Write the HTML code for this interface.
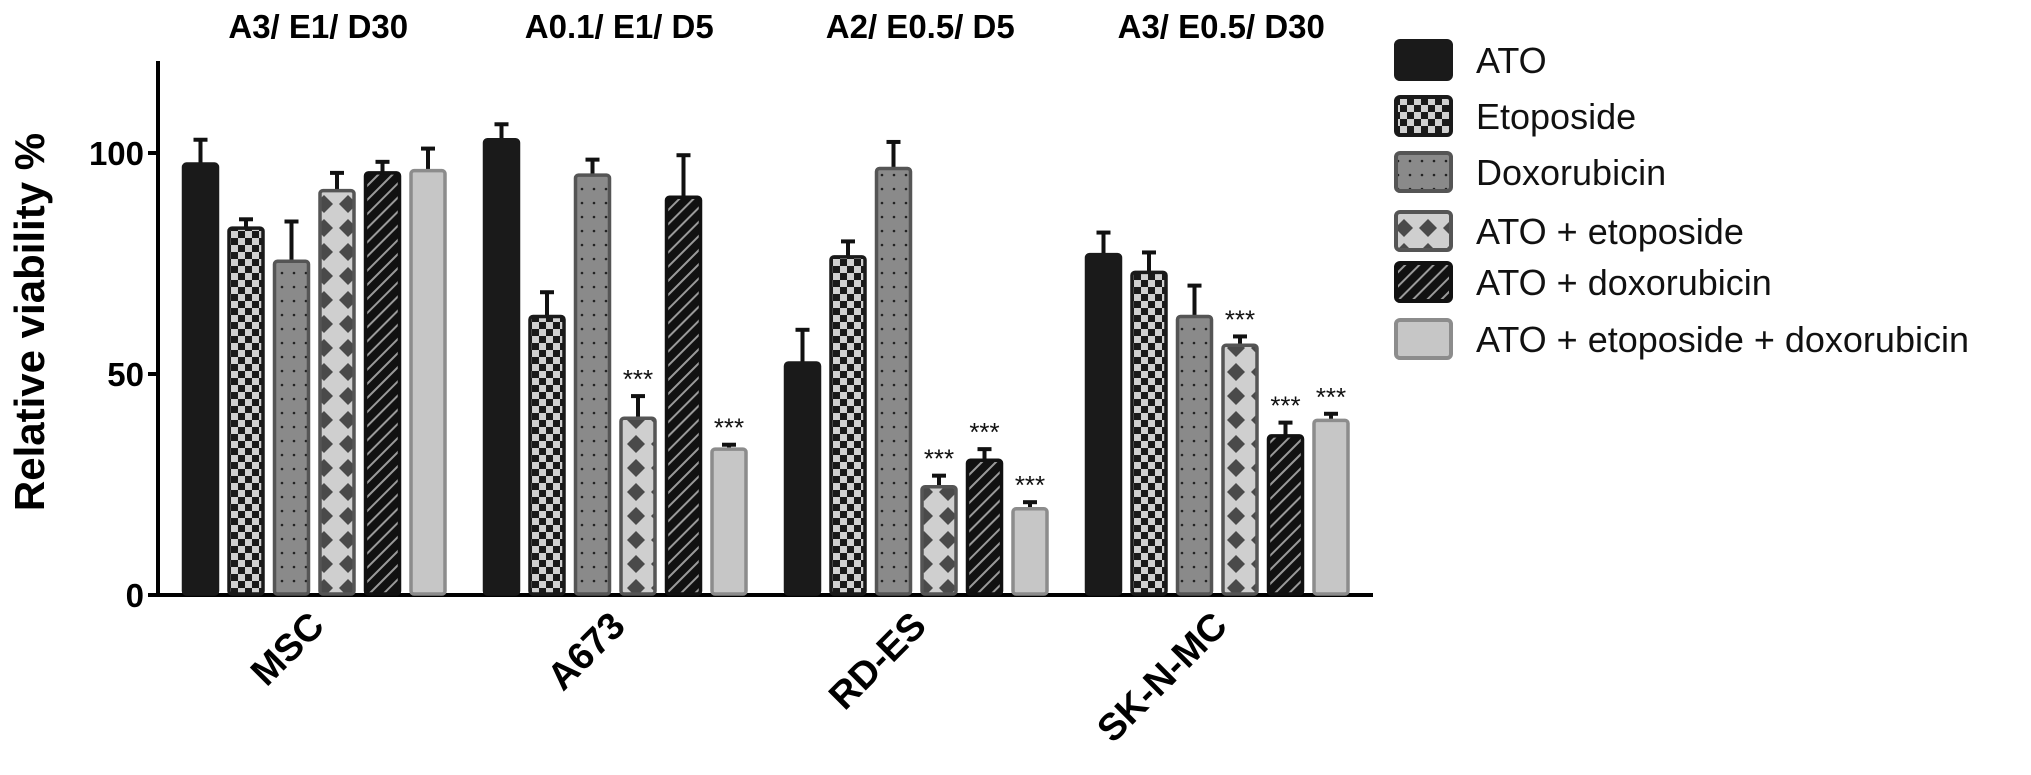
<!DOCTYPE html>
<html><head><meta charset="utf-8">
<style>
html,body{margin:0;padding:0;background:#fff;}
svg{display:block;font-family:"Liberation Sans",Arial,sans-serif;}
</style></head>
<body>
<svg id="chart" width="2031" height="775" viewBox="0 0 2031 775">
<defs>
  <pattern id="p-check" width="14" height="14" patternUnits="userSpaceOnUse">
    <rect width="14" height="14" fill="#1a1a1a"/>
    <rect x="0" y="0" width="7" height="7" fill="#d0d0d0"/>
    <rect x="7" y="7" width="7" height="7" fill="#d0d0d0"/>
  </pattern>
  <pattern id="p-dots" width="12" height="14" patternUnits="userSpaceOnUse">
    <rect width="12" height="14" fill="#8a8a8a"/>
    <circle cx="6" cy="7" r="1.3" fill="#222"/>
  </pattern>
  <pattern id="p-diam" width="24" height="24" patternUnits="userSpaceOnUse">
    <rect width="24" height="24" fill="#cfcfcf"/>
    <polygon points="12,3 21,12 12,21 3,12" fill="#4a4a4a"/>
  </pattern>
  <pattern id="p-stripe" width="10" height="10" patternUnits="userSpaceOnUse" patternTransform="rotate(45)">
    <rect width="10" height="10" fill="#111"/>
    <rect x="0" y="0" width="2" height="10" fill="#9a9a9a"/>
  </pattern>
</defs>
<g id="plot"></g>
</svg>
<script>
const groups = ["MSC","A673","RD-ES","SK-N-MC"];
const groupTitles = ["A3/ E1/ D30","A0.1/ E1/ D5","A2/ E0.5/ D5","A3/ E0.5/ D30"];
const seriesNames = ["ATO","Etoposide","Doxorubicin","ATO + etoposide","ATO + doxorubicin","ATO + etoposide + doxorubicin"];
const valATO   = [97.5, 103, 52.5, 77];
const valEto   = [83, 63, 76.5, 73];
const valDox   = [75.5, 95, 96.5, 63];
const valAE    = [91.5, 40, 24.5, 56.5];
const valAD    = [95.5, 90, 30.5, 36];
const valAED   = [96, 33, 19.5, 39.5];
const errATO   = [5.5, 3.5, 7.5, 5];
const errEto   = [2, 5.5, 3.5, 4.5];
const errDox   = [9, 3.5, 6, 7];
const errAE    = [4, 5, 2.5, 2];
const errAD    = [2.5, 9.5, 2.5, 3];
const errAED   = [5, 1, 1.5, 1.5];
const sigAE    = [false, true, true, true];
const sigAD    = [false, false, true, true];
const sigAED   = [false, true, true, true];
const yTicks = [0, 50, 100];

const values = [valATO,valEto,valDox,valAE,valAD,valAED];
const errs = [errATO,errEto,errDox,errAE,errAD,errAED];
const sigs = [null,null,null,sigAE,sigAD,sigAED];
const fills = ["#1a1a1a","url(#p-check)","url(#p-dots)","url(#p-diam)","url(#p-stripe)","#c6c6c6"];
const strokes = ["#1a1a1a","#1a1a1a","#555","#555","#111","#8c8c8c"];

const NS="http://www.w3.org/2000/svg";
const g=document.getElementById('plot');
function el(tag,attrs,parent){const e=document.createElementNS(NS,tag);for(const k in attrs)e.setAttribute(k,attrs[k]);(parent||g).appendChild(e);return e;}
const y0=595, yUnit=4.42;
function yScale(v){return y0-v*yUnit;}
function xBar(gi,si){return 182+gi*301+si*45.5;}
const barW=37;

let a=el('line',{x1:158,y1:61,x2:158,y2:597,stroke:'#000','stroke-width':4});


a=el('line',{x1:156,y1:595,x2:1373,y2:595,stroke:'#000','stroke-width':4});


yTicks.forEach(t=>{
  const tl=el('line',{x1:148,y1:yScale(t),x2:158,y2:yScale(t),stroke:'#000','stroke-width':4});
  
  
  const tx=el('text',{x:144,y:yScale(t)+12,'text-anchor':'end','font-size':33,'font-weight':'bold'});
  tx.textContent=t;
  
  
});
const yl=el('text',{x:0,y:0,transform:'translate(44,322) rotate(-90)','text-anchor':'middle','font-size':42,'font-weight':'bold'});
yl.textContent='Relative viability %';



groups.forEach((gn,gi)=>{
  const cx=xBar(gi,0)+(5*45.5+barW)/2;
  const tt=el('text',{x:cx+4,y:38,'text-anchor':'middle','font-size':33,'font-weight':'bold'});
  tt.textContent=groupTitles[gi];
  
  
  const xl=el('text',{x:0,y:0,transform:`translate(${cx+12},628) rotate(-45)`,'text-anchor':'end','font-size':38,'font-weight':'bold'});
  xl.textContent=gn;
  
  
  values.forEach((vals,si)=>{
    const x=xBar(gi,si), v=vals[gi], e=errs[si][gi];
    const top=yScale(v), etop=yScale(v+e), mx=x+barW/2;
    const el1=el('line',{x1:mx,y1:top,x2:mx,y2:etop,stroke:'#111','stroke-width':4});
    
    
    const el2=el('line',{x1:mx-7,y1:etop,x2:mx+7,y2:etop,stroke:'#111','stroke-width':4});
    
    
    const r=el('rect',{x:x+1.5,y:top,width:barW-3,height:y0-top-1,rx:3,fill:fills[si],stroke:strokes[si],'stroke-width':3.5});
    
    
    if(sigs[si]&&sigs[si][gi]){
      const st=el('text',{x:mx,y:etop-8,'text-anchor':'middle','font-size':26,fill:'#111'});
      st.textContent='***';
      
      
    }
  });
});

const legRows=[60,116,172,231,282,339];
seriesNames.forEach((n,si)=>{
  const cy=legRows[si];
  const sw=el('rect',{x:1396,y:cy-19,width:55,height:38,rx:4,fill:fills[si],stroke:strokes[si],'stroke-width':4});
  
  
  const lt=el('text',{x:1476,y:cy+13,'font-size':36,fill:'#111',textLength:null});
  lt.removeAttribute('textLength');
  lt.textContent=n;
  
  
});
</script>
</body></html>
